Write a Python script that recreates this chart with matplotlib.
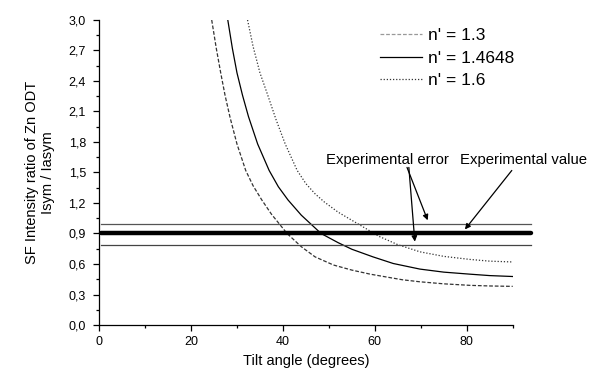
import matplotlib
matplotlib.use("Agg")
import matplotlib.pyplot as plt
from matplotlib.ticker import MultipleLocator, FixedLocator

plt.rcParams['font.family'] = ['Liberation Sans', 'DejaVu Sans']

# Curves (tilt angle, intensity ratio)
x_13 = [24.5, 25.5, 26.5, 27.4, 28.5, 30.0, 31.9, 33.5, 35.4, 37.5, 40.9, 44.0, 47.0,
        51.0, 55.0, 59.0, 62.8, 66.0, 69.8, 75.0, 80.7, 85.0, 90.0]
y_13 = [3.00, 2.72, 2.47, 2.26, 2.04, 1.78, 1.52, 1.37, 1.23, 1.09, 0.90, 0.77, 0.67,
        0.59, 0.54, 0.50, 0.47, 0.445, 0.425, 0.405, 0.39, 0.384, 0.38]

x_146 = [28.0, 29.0, 30.0, 31.2, 32.5, 34.5, 37.0, 39.0, 41.1, 44.0, 48.3, 52.0, 55.0,
         59.6, 64.0, 69.8, 75.0, 80.7, 85.0, 90.0]
y_146 = [3.00, 2.72, 2.48, 2.26, 2.05, 1.78, 1.52, 1.36, 1.23, 1.08, 0.90, 0.81, 0.745,
         0.67, 0.605, 0.55, 0.52, 0.50, 0.486, 0.477]

x_16 = [32.3, 33.5, 35.0, 36.7, 38.5, 40.5, 43.1, 45.0, 47.0, 49.0, 52.0, 55.0, 58.0,
        61.0, 65.0, 69.8, 75.0, 80.7, 85.0, 90.0]
y_16 = [3.00, 2.74, 2.48, 2.26, 2.02, 1.78, 1.52, 1.39, 1.29, 1.21, 1.11, 1.03, 0.95,
        0.87, 0.79, 0.72, 0.675, 0.645, 0.628, 0.62]

exp_x = [0.5, 94.0]
exp_value = 0.90
err_high = 0.99
err_low = 0.79

labels = ["n' = 1.3", "n' = 1.4648", "n' = 1.6"]
x_ticks = [0, 20, 40, 60, 80]
x_ticklabels = ["0", "20", "40", "60", "80"]
y_ticks = [0.0, 0.3, 0.6, 0.9, 1.2, 1.5, 1.8, 2.1, 2.4, 2.7, 3.0]
y_ticklabels = ["0,0", "0,3", "0,6", "0,9", "1,2", "1,5", "1,8", "2,1", "2,4", "2,7", "3,0"]

fig = plt.figure(figsize=(5.9, 3.7), dpi=100)
ax = fig.add_axes([0.168, 0.1216, 0.701, 0.8244])

l1, = ax.plot(x_13, y_13, color='#333333', lw=0.9, linestyle=(0, (3, 1.5)), label=labels[0])
l2, = ax.plot(x_146, y_146, color='black', lw=0.9, linestyle='-', label=labels[1])
l3, = ax.plot(x_16, y_16, color='#333333', lw=0.9, linestyle=(0, (1, 1.5)), label=labels[2])

ax.plot(exp_x, [err_high, err_high], color='#555555', lw=0.9, clip_on=False)
ax.plot(exp_x, [err_low, err_low], color='#444444', lw=0.9, clip_on=False)
ax.plot(exp_x, [exp_value, exp_value], color='black', lw=3.2, solid_capstyle='round', clip_on=False)

ax.set_xlim(0, 90)
ax.set_ylim(0, 3.0)

ax.xaxis.set_major_locator(FixedLocator(x_ticks))
ax.set_xticklabels(x_ticklabels)
ax.xaxis.set_minor_locator(MultipleLocator(10))
ax.yaxis.set_major_locator(FixedLocator(y_ticks))
ax.set_yticklabels(y_ticklabels)
ax.yaxis.set_minor_locator(MultipleLocator(0.15))

for s in ['top', 'right']:
    ax.spines[s].set_visible(False)
for s in ['left', 'bottom']:
    ax.spines[s].set_linewidth(0.9)

ax.tick_params(which='major', direction='out', length=4, width=0.9, labelsize=9)
ax.tick_params(axis='x', which='major', pad=4)
ax.tick_params(axis='y', which='major', pad=5.5)
ax.tick_params(which='minor', direction='out', length=2.5, width=0.9)

ax.set_xlabel('Tilt angle (degrees)', fontsize=10.5, labelpad=4.5)
ax.set_ylabel('SF Intensity ratio of Zn ODT\nIsym / Iasym', fontsize=10.5, labelpad=10, linespacing=1.15)

leg = ax.legend(handles=[l1, l2, l3], loc='upper left', bbox_to_anchor=(380 / 590, 1 - 28 / 370),
                bbox_transform=fig.transFigure, frameon=False, fontsize=12.5,
                handlelength=2.4, handletextpad=0.35, labelspacing=0.42, borderpad=0, borderaxespad=0)
leg.get_lines()[0].set_color('#999999')

arrowprops = dict(arrowstyle='-|>', color='black', lw=0.9, mutation_scale=8, shrinkA=0, shrinkB=0)
ax.text(62.8, 1.62, 'Experimental error', fontsize=10.7, ha='center', va='center')
ax.text(92.4, 1.62, 'Experimental value', fontsize=10.7, ha='center', va='center', clip_on=False)
ax.annotate('', xy=(71.5, 1.03), xytext=(67.0, 1.55), arrowprops=arrowprops)
ax.annotate('', xy=(68.7, 0.82), xytext=(67.4, 1.55), arrowprops=arrowprops)
ax.annotate('', xy=(79.6, 0.94), xytext=(89.8, 1.52), arrowprops=arrowprops, annotation_clip=False)

fig.savefig('out.png', dpi=100)
